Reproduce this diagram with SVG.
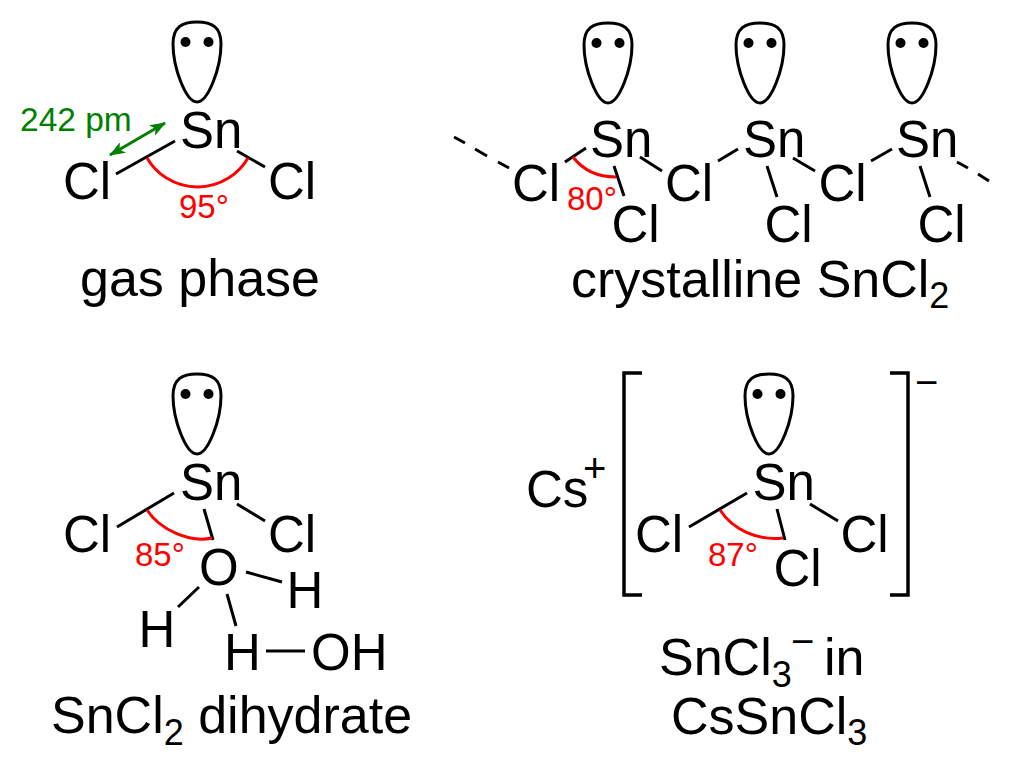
<svg xmlns="http://www.w3.org/2000/svg" xmlns:xlink="http://www.w3.org/1999/xlink" width="1011" height="767" viewBox="0 0 1011 767">
<style>
text{font-family:"Liberation Sans",Arial,sans-serif;font-size:51px;fill:#000}
.cap{font-size:52px}
.sub{font-size:36px}
.sup{font-size:40px}
.ang{font-size:33px;fill:#f00}
.dist{font-size:33.500px;fill:#008000}
.b{stroke:#000;stroke-width:3;fill:none}
.a{stroke:#f00;stroke-width:3;fill:none}
.lp{stroke:#000;stroke-width:3;fill:#fff}
</style>
<defs>
<g id="lobe">
<path class="lp" d="M0 0C-15 0-24 5-24 22C-24 46-11 80 0 80C11 80 24 46 24 22C24 5 15 0 0 0Z"/>
<circle cx="-11.500" cy="20" r="5"/><circle cx="11.500" cy="20" r="5"/>
</g>
<marker id="g" viewBox="0 0 16 12" refX="15" refY="6" markerWidth="16" markerHeight="12" markerUnits="userSpaceOnUse" orient="auto-start-reverse"><path d="M0 0L16 6L0 12L4 6Z" fill="#008000"/></marker>
</defs>
<rect width="1011" height="767" fill="#fff"/>
<g id="connectors">
<path class="b" d="M116 174L175 141M237 151L265 167"/>
<path class="a" d="M147 158A58.500 58.500 0 0 0 248 158"/>
<path d="M110 155L165 123" stroke="#008000" stroke-width="3" marker-start="url(#g)" marker-end="url(#g)" fill="none"/>
<path class="b" d="M454 137L465 143M475 149L487 156M498 162L509 168M565 162L586 148M640 157L662 171M614 166L624 196M718 161L738 149M793 158L815 171M767 166L777 197M871 161L892 149M920 166L930 197M957 162L968 168M978 174L989 181"/>
<path class="a" d="M573 157C583 170 598 177 616 177"/>
<path class="b" d="M117 527L174 493M237 504L265 521M204 509L213 540M246 572L282 582M199 587L178 607M227 594L236 626M266 651H305"/>
<path class="a" d="M147 510C160 530 190 543 212 538"/>
<path class="b" d="M689 527L747 493M810 504L838 521M777 509L785 540"/>
<path class="a" d="M720 510C733 530 758 541 783 538"/>
<path class="b" d="M642 373H624V595H642M890 373H908V595H890" style="stroke-width:3.500"/>
</g>
<g id="n1"><use xlink:href="#lobe" href="#lobe" x="197" y="22"/><text x="180" y="148">Sn</text><text x="63" y="199">Cl</text><text x="268" y="199">Cl</text><text class="ang" x="179" y="218">95°</text><text class="dist" x="20" y="131">242 pm</text><text class="cap" x="80" y="296">gas phase</text></g>
<g id="n2"><use xlink:href="#lobe" href="#lobe" x="608" y="23"/><use xlink:href="#lobe" href="#lobe" x="760" y="23"/><use xlink:href="#lobe" href="#lobe" x="912" y="23"/>
<text x="590" y="157">Sn</text><text x="743" y="157">Sn</text><text x="896" y="157">Sn</text>
<text x="512" y="201">Cl</text><text x="665" y="201">Cl</text><text x="818.500" y="201">Cl</text>
<text x="611.500" y="242">Cl</text><text x="764.500" y="242">Cl</text><text x="917.500" y="242">Cl</text>
<text class="ang" x="567" y="210">80°</text>
<text class="cap" x="571" y="297">crystalline SnCl<tspan class="sub" dy="11">2</tspan></text></g>
<g id="n3"><use xlink:href="#lobe" href="#lobe" x="197" y="374"/><text x="180" y="500">Sn</text><text x="63" y="552">Cl</text><text x="268" y="552">Cl</text>
<text class="ang" x="135" y="566">85°</text><text x="199" y="585">O</text><text x="286.500" y="608">H</text><text x="138.500" y="647">H</text><text x="224" y="670">H</text><text x="311" y="670">OH</text>
<text class="cap" x="51" y="733">SnCl<tspan class="sub" dy="12">2</tspan><tspan dy="-12"> dihydrate</tspan></text></g>
<g id="n4"><use xlink:href="#lobe" href="#lobe" x="769" y="374"/><text x="752.500" y="500">Sn</text><text x="635" y="552">Cl</text><text x="840.500" y="552">Cl</text><text x="773.500" y="586">Cl</text>
<text class="ang" x="708" y="566">87°</text><text x="526" y="507">Cs</text><text class="sup" x="583" y="482">+</text><text class="sup" x="915" y="396">−</text>
<text class="cap" x="659" y="675">SnCl<tspan class="sub" dy="12">3</tspan></text><text class="sup" x="791" y="655">−</text><text class="cap" x="824" y="675">in</text>
<text class="cap" x="671" y="734">CsSnCl<tspan class="sub" dy="11">3</tspan></text></g>
</svg>
